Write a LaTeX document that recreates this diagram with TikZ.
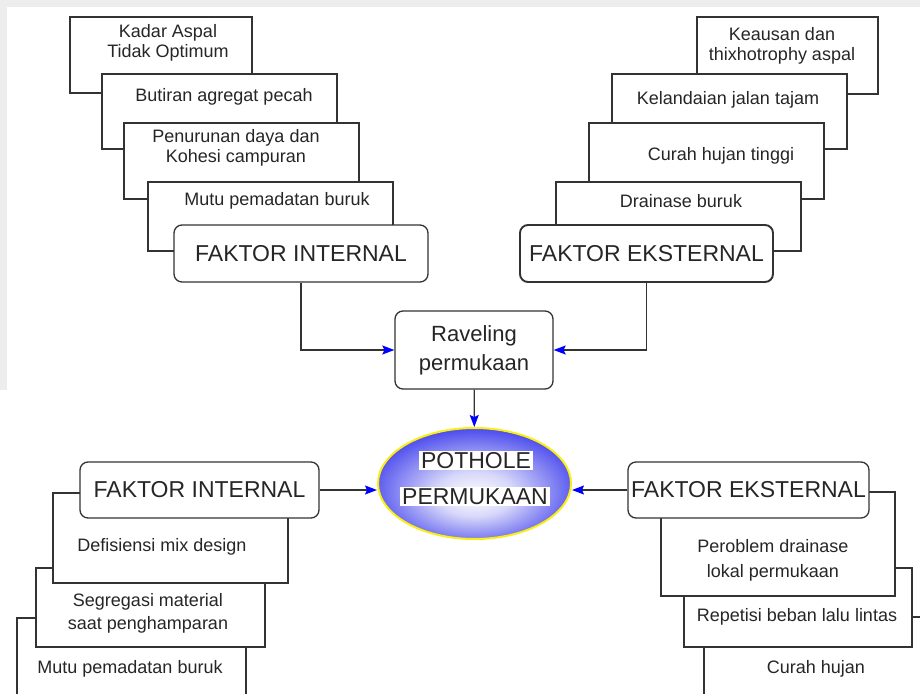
\documentclass[tikz,border=0pt]{standalone}
\usepackage{fontspec}
\setmainfont{Liberation Sans}
\usetikzlibrary{arrows.meta,shapes.geometric}
\definecolor{holeblue}{RGB}{25,25,222}
\definecolor{holemid}{RGB}{80,80,238}
\definecolor{holelight}{RGB}{215,215,250}
\definecolor{holeyellow}{RGB}{250,238,20}
\pgfdeclareradialshading{holeshade}{\pgfpoint{0bp}{-6bp}}{color(0bp)=(white); color(10bp)=(holelight); color(27bp)=(holemid); color(42bp)=(holeblue); color(50bp)=(holeblue)}

\begin{document}
\begin{tikzpicture}[x=1pt, y=-1pt, ->, >={Stealth[length=12pt, width=9pt, inset=2pt, color=blue]}, line width=1.3pt, draw=black!80,
	cause node/.style={rectangle, draw=black!80, fill=white, inner sep=0pt},
	text node/.style={font=\fontsize{18}{20}\selectfont, text=black!85, align=center, inner sep=0pt},
	factor node/.style={rectangle, rounded corners=8pt, draw=black!80, fill=white, inner sep=0pt, font=\fontsize{23}{26}\selectfont, text=black!85},
	core node/.style={rectangle, rounded corners=8pt, draw=black!80, fill=white, inner sep=0pt, align=center, font=\fontsize{22}{29}\selectfont, text=black!85},
	hole node/.style={ellipse, draw=holeyellow, line width=2pt, shade, shading=holeshade, inner sep=0pt},
	hole text/.style={fill=white, inner xsep=2pt, inner ysep=1pt, font=\fontsize{23}{26}\selectfont, text=black!85}]
	\useasboundingbox (0,0) rectangle (920,693);
	\clip (0,0) rectangle (920,693);
	\fill[gray!14] (0,0) rectangle (920,7);
	\fill[gray!14] (0,0) rectangle (7,390);

	% top left
	\node[cause node, minimum width=182pt, minimum height=76pt] (A1) at (161,55) {};
	\node[text node] (A1t) at (168,43) {Kadar Aspal\\Tidak Optimum};
	\node[cause node, minimum width=235pt, minimum height=75pt] (A2) at (219.5,111.5) {};
	\node[text node] (A2t) at (224,97) {Butiran agregat pecah};
	\node[cause node, minimum width=235pt, minimum height=76pt] (A3) at (241.5,161) {};
	\node[text node] (A3t) at (236,148) {Penurunan daya dan\\Kohesi campuran};
	\node[cause node, minimum width=245pt, minimum height=69pt] (A4) at (270.5,216.5) {};
	\node[text node] (A4t) at (277,201) {Mutu pemadatan buruk};
	\node[factor node, minimum width=254pt, minimum height=57pt] (FI) at (301,253.5) {FAKTOR INTERNAL};

	% top right
	\node[cause node, minimum width=181pt, minimum height=77pt] (B1) at (787.5,55.5) {};
	\node[text node] (B1t) at (782,46) {Keausan dan\\thixhotrophy aspal};
	\node[cause node, minimum width=235pt, minimum height=75pt] (B2) at (729.5,111.5) {};
	\node[text node] (B2t) at (728,100) {Kelandaian jalan tajam};
	\node[cause node, minimum width=235pt, minimum height=76pt] (B3) at (706.5,161) {};
	\node[text node] (B3t) at (721,156) {Curah hujan tinggi};
	\node[cause node, minimum width=245pt, minimum height=69pt] (B4) at (678.5,216.5) {};
	\node[text node] (B4t) at (681,201) {Drainase buruk};
	\node[factor node, line width=1.9pt, minimum width=253pt, minimum height=57pt] (FE) at (646.5,253.5) {FAKTOR EKSTERNAL};

	% middle
	\node[core node, minimum width=158pt, minimum height=78pt] (R) at (474,350) {Raveling\\permukaan};
	\node[hole node, minimum width=193pt, minimum height=111pt] (P) at (474.5,483.5) {};
	\node[hole text] (Pa) at (476,460.5) {POTHOLE};
	\node[hole text] (Pb) at (475,496.5) {PERMUKAAN};

	% bottom left
	\node[cause node, minimum width=229pt, minimum height=102pt] (C3) at (131.5,669) {};
	\node[text node] (C3t) at (130,669) {Mutu pemadatan buruk};
	\node[cause node, minimum width=229pt, minimum height=79pt] (C2) at (150.5,607.5) {};
	\node[text node] (C2t) at (148,613.5) {Segregasi material\\[3pt]saat penghamparan};
	\node[cause node, minimum width=235pt, minimum height=90pt] (C1) at (170.5,538) {};
	\node[text node] (C1t) at (162,547) {Defisiensi mix design};
	\node[factor node, minimum width=239pt, minimum height=56pt] (FIb) at (199.5,490) {FAKTOR INTERNAL};

	% bottom right
	\node[cause node, minimum width=231pt, minimum height=103pt] (D3) at (819.5,668.5) {};
	\node[text node] (D3t) at (816,669) {Curah hujan};
	\node[cause node, minimum width=228pt, minimum height=79pt] (D2) at (798,607.5) {};
	\node[text node] (D2t) at (797,617) {Repetisi beban lalu lintas};
	\node[cause node, minimum width=234pt, minimum height=104pt] (D1) at (778,544) {};
	\node[text node] (D1t) at (773,560) {Peroblem drainase\\[5pt]lokal permukaan};
	\node[factor node, minimum width=241pt, minimum height=56pt] (FEb) at (748.5,490) {FAKTOR EKSTERNAL};

	\draw (FI.south) |- (R.west);
	\draw (FE.south) |- (R.east);
	\draw (R) -- (P);
	\draw (FIb.east) -- (FIb.east -| P.west);
	\draw (FEb.west) -- (FEb.west -| P.east);
\end{tikzpicture}
\end{document}
